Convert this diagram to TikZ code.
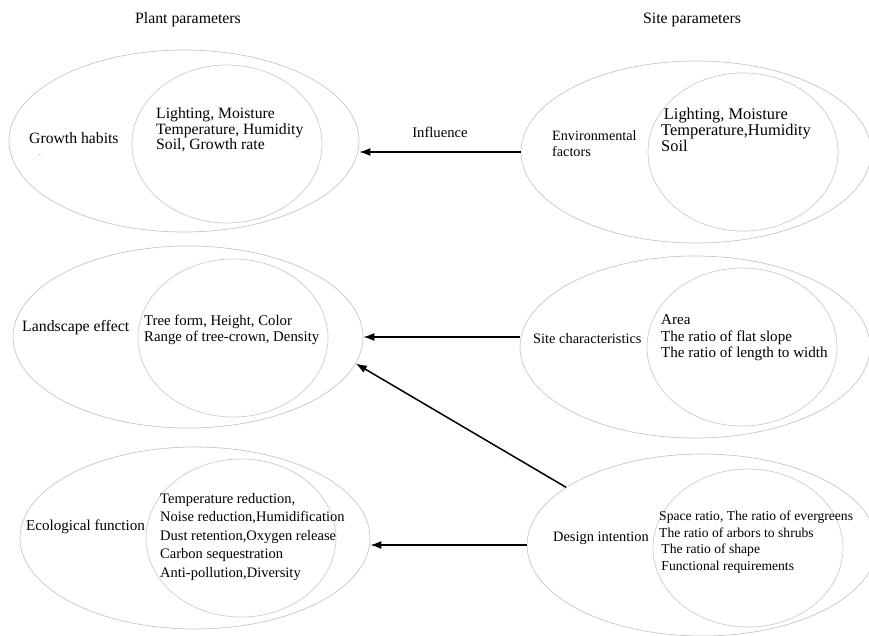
\documentclass[tikz,border=0pt]{standalone}
\usepackage{fontspec}
\setmainfont{Liberation Serif}
\usepackage{xcolor}
\usepackage{tikz}
\usetikzlibrary{shapes.geometric,arrows.meta}

\begin{document}
\begin{tikzpicture}[x=1pt, y=-1pt,
  every node/.style={font=\fontsize{14.5}{15.5}\selectfont, inner sep=0pt},
  fs/.style={font=\fontsize{#1}{16}\selectfont},
  outer/.style={ellipse, draw=gray!45, line width=0.7pt, minimum width=350pt, minimum height=182pt},
  inner/.style={ellipse, draw=gray!40, line width=0.7pt, minimum width=190pt, minimum height=158pt},
  txt/.style={anchor=west, align=left},
  arr/.style={-{Latex[length=11pt,width=8pt]}, line width=1.5pt}]
  \useasboundingbox (0,0) rectangle (869,635);
  % outer and inner ellipses
  \foreach \n/\cx/\cy/\ix/\iy in {growth/184/141/227/144, land/188/337/233/338,
      eco/195/538/241/538, env/696/152/743/152, site/695/347/742/347, design/702/545/748/548}{
    \node[outer] (\n) at (\cx,\cy) {};
    \node[inner] (\n in) at (\ix,\iy) {};
  }
  % headings
  \node[fs=15.8] (plant) at (188,20) {Plant parameters};
  \node[fs=15.8] (sitehead) at (692,20) {Site parameters};
  % plant side
  \node[txt, fs=15.7] (growthlab) at (29,138) {Growth habits};
  \node (speck) at (40,156) {\tiny -};
  \node[txt, font=\fontsize{15.7}{15.5}\selectfont] (growthtxt) at (156,130) {Lighting, Moisture\\Temperature, Humidity\\Soil, Growth rate};
  \node[txt, fs=15.8] (landlab) at (22,328) {Landscape effect};
  \node[txt, fs=14.8] (landtxt) at (144,330) {Tree form, Height, Color\\Range of tree-crown, Density};
  \node[txt, fs=15.1] (ecolab) at (26,527) {Ecological function};
  \node[txt, font=\fontsize{14.5}{18.5}\selectfont] (ecotxt) at (160,537)
    {Temperature reduction,\\Noise reduction,Humidification\\Dust retention,Oxygen release\\Carbon sequestration\\Anti-pollution,Diversity};
  % site side
  \node[txt, fs=14.2] (envlab) at (552,144) {Environmental\\factors};
  \node[txt, fs=16.4] (envtxt) at (661,130) {\,Lighting, Moisture\\Temperature,Humidity\\Soil};
  \node[txt, fs=14.4] (sitelab) at (533,339) {Site characteristics};
  \node[txt, font=\fontsize{15.1}{16.5}\selectfont] (sitetxt) at (661,338) {Area\\The ratio of flat slope\\The ratio of length to width};
  \node[txt, fs=14.4] (designlab) at (553,538) {Design intention};
  \node[txt, font=\fontsize{13.6}{16.7}\selectfont] (designtxt) at (659,542)
    {Space ratio, The ratio of evergreens\\ The ratio of arbors to shrubs\\ \,The ratio of shape\\ \,Functional requirements};
  % influence arrows
  \draw[arr] (env.west) -- (env.west -| growth.east)
    node[midway, above=14pt, fs=14.7] (infl) {Influence};
  \draw[arr] (site.west |- land.east) -- (land.east);
  \draw[arr] (design.157.7) -- (land.351.5);
  \draw[arr] (design.west) -- (design.west -| eco.east);
\end{tikzpicture}
\end{document}
